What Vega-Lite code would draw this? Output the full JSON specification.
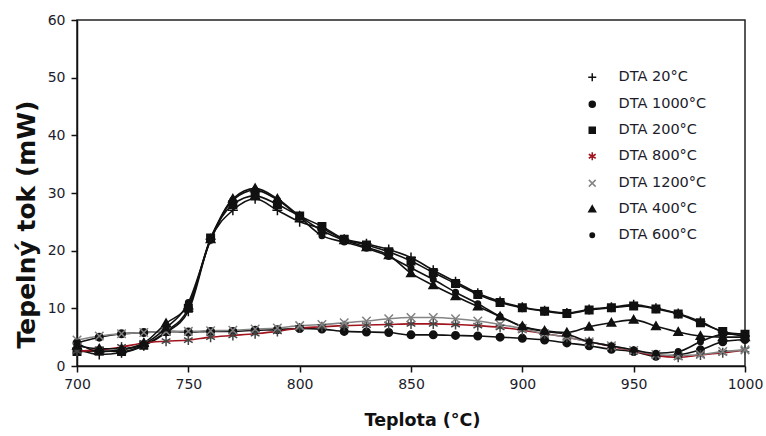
{
  "$schema": "https://vega.github.io/schema/vega-lite/v6.json",
  "width": 668,
  "height": 346,
  "autosize": "none",
  "padding": {"left": 77, "top": 20, "right": 21, "bottom": 70},
  "background": "white",
  "config": {
    "view": {"stroke": "#222", "strokeWidth": 1.5},
    "font": "DejaVu Sans"
  },
  "datasets": {
    "dta": [
      {"T":700,"s":"DTA 20°C","v":3.0},{"T":710,"s":"DTA 20°C","v":2.0},{"T":720,"s":"DTA 20°C","v":2.3},{"T":730,"s":"DTA 20°C","v":3.5},{"T":740,"s":"DTA 20°C","v":5.8},{"T":750,"s":"DTA 20°C","v":9.5},{"T":760,"s":"DTA 20°C","v":22.0},{"T":770,"s":"DTA 20°C","v":27.0},{"T":780,"s":"DTA 20°C","v":29.0},{"T":790,"s":"DTA 20°C","v":27.0},{"T":800,"s":"DTA 20°C","v":25.0},{"T":810,"s":"DTA 20°C","v":23.8},{"T":820,"s":"DTA 20°C","v":22.0},{"T":830,"s":"DTA 20°C","v":21.2},{"T":840,"s":"DTA 20°C","v":20.2},{"T":850,"s":"DTA 20°C","v":18.8},{"T":860,"s":"DTA 20°C","v":16.6},{"T":870,"s":"DTA 20°C","v":14.6},{"T":880,"s":"DTA 20°C","v":12.6},{"T":890,"s":"DTA 20°C","v":11.2},{"T":900,"s":"DTA 20°C","v":10.2},{"T":910,"s":"DTA 20°C","v":9.6},{"T":920,"s":"DTA 20°C","v":9.2},{"T":930,"s":"DTA 20°C","v":9.8},{"T":940,"s":"DTA 20°C","v":10.2},{"T":950,"s":"DTA 20°C","v":10.6},{"T":960,"s":"DTA 20°C","v":10.0},{"T":970,"s":"DTA 20°C","v":9.1},{"T":980,"s":"DTA 20°C","v":7.7},{"T":990,"s":"DTA 20°C","v":5.9},{"T":1000,"s":"DTA 20°C","v":5.2},
      {"T":700,"s":"DTA 1000°C","v":4.0},{"T":710,"s":"DTA 1000°C","v":5.0},{"T":720,"s":"DTA 1000°C","v":5.6},{"T":730,"s":"DTA 1000°C","v":5.8},{"T":740,"s":"DTA 1000°C","v":6.0},{"T":750,"s":"DTA 1000°C","v":5.9},{"T":760,"s":"DTA 1000°C","v":6.0},{"T":770,"s":"DTA 1000°C","v":6.0},{"T":780,"s":"DTA 1000°C","v":6.2},{"T":790,"s":"DTA 1000°C","v":6.3},{"T":800,"s":"DTA 1000°C","v":6.5},{"T":810,"s":"DTA 1000°C","v":6.4},{"T":820,"s":"DTA 1000°C","v":6.0},{"T":830,"s":"DTA 1000°C","v":5.9},{"T":840,"s":"DTA 1000°C","v":5.8},{"T":850,"s":"DTA 1000°C","v":5.4},{"T":860,"s":"DTA 1000°C","v":5.4},{"T":870,"s":"DTA 1000°C","v":5.3},{"T":880,"s":"DTA 1000°C","v":5.2},{"T":890,"s":"DTA 1000°C","v":5.0},{"T":900,"s":"DTA 1000°C","v":4.8},{"T":910,"s":"DTA 1000°C","v":4.5},{"T":920,"s":"DTA 1000°C","v":4.0},{"T":930,"s":"DTA 1000°C","v":3.5},{"T":940,"s":"DTA 1000°C","v":2.9},{"T":950,"s":"DTA 1000°C","v":2.5},{"T":960,"s":"DTA 1000°C","v":1.7},{"T":970,"s":"DTA 1000°C","v":1.9},{"T":980,"s":"DTA 1000°C","v":2.8},{"T":990,"s":"DTA 1000°C","v":4.2},{"T":1000,"s":"DTA 1000°C","v":4.6},
      {"T":700,"s":"DTA 200°C","v":2.5},{"T":710,"s":"DTA 200°C","v":2.6},{"T":720,"s":"DTA 200°C","v":2.5},{"T":730,"s":"DTA 200°C","v":3.6},{"T":740,"s":"DTA 200°C","v":6.0},{"T":750,"s":"DTA 200°C","v":10.0},{"T":760,"s":"DTA 200°C","v":22.2},{"T":770,"s":"DTA 200°C","v":28.0},{"T":780,"s":"DTA 200°C","v":29.5},{"T":790,"s":"DTA 200°C","v":28.0},{"T":800,"s":"DTA 200°C","v":26.0},{"T":810,"s":"DTA 200°C","v":24.2},{"T":820,"s":"DTA 200°C","v":22.0},{"T":830,"s":"DTA 200°C","v":21.0},{"T":840,"s":"DTA 200°C","v":19.8},{"T":850,"s":"DTA 200°C","v":18.2},{"T":860,"s":"DTA 200°C","v":16.2},{"T":870,"s":"DTA 200°C","v":14.3},{"T":880,"s":"DTA 200°C","v":12.4},{"T":890,"s":"DTA 200°C","v":11.0},{"T":900,"s":"DTA 200°C","v":10.1},{"T":910,"s":"DTA 200°C","v":9.5},{"T":920,"s":"DTA 200°C","v":9.1},{"T":930,"s":"DTA 200°C","v":9.7},{"T":940,"s":"DTA 200°C","v":10.1},{"T":950,"s":"DTA 200°C","v":10.4},{"T":960,"s":"DTA 200°C","v":9.9},{"T":970,"s":"DTA 200°C","v":9.0},{"T":980,"s":"DTA 200°C","v":7.5},{"T":990,"s":"DTA 200°C","v":6.0},{"T":1000,"s":"DTA 200°C","v":5.5},
      {"T":700,"s":"DTA 800°C","v":2.6},{"T":710,"s":"DTA 800°C","v":2.8},{"T":720,"s":"DTA 800°C","v":3.3},{"T":730,"s":"DTA 800°C","v":4.0},{"T":740,"s":"DTA 800°C","v":4.3},{"T":750,"s":"DTA 800°C","v":4.5},{"T":760,"s":"DTA 800°C","v":5.0},{"T":770,"s":"DTA 800°C","v":5.3},{"T":780,"s":"DTA 800°C","v":5.6},{"T":790,"s":"DTA 800°C","v":6.0},{"T":800,"s":"DTA 800°C","v":6.6},{"T":810,"s":"DTA 800°C","v":6.8},{"T":820,"s":"DTA 800°C","v":7.0},{"T":830,"s":"DTA 800°C","v":7.1},{"T":840,"s":"DTA 800°C","v":7.2},{"T":850,"s":"DTA 800°C","v":7.3},{"T":860,"s":"DTA 800°C","v":7.3},{"T":870,"s":"DTA 800°C","v":7.2},{"T":880,"s":"DTA 800°C","v":7.0},{"T":890,"s":"DTA 800°C","v":6.7},{"T":900,"s":"DTA 800°C","v":6.2},{"T":910,"s":"DTA 800°C","v":5.6},{"T":920,"s":"DTA 800°C","v":5.0},{"T":930,"s":"DTA 800°C","v":4.2},{"T":940,"s":"DTA 800°C","v":3.4},{"T":950,"s":"DTA 800°C","v":2.6},{"T":960,"s":"DTA 800°C","v":1.8},{"T":970,"s":"DTA 800°C","v":1.5},{"T":980,"s":"DTA 800°C","v":1.9},{"T":990,"s":"DTA 800°C","v":2.3},{"T":1000,"s":"DTA 800°C","v":2.8},
      {"T":700,"s":"DTA 1200°C","v":4.5},{"T":710,"s":"DTA 1200°C","v":5.2},{"T":720,"s":"DTA 1200°C","v":5.6},{"T":730,"s":"DTA 1200°C","v":5.8},{"T":740,"s":"DTA 1200°C","v":6.0},{"T":750,"s":"DTA 1200°C","v":6.0},{"T":760,"s":"DTA 1200°C","v":6.1},{"T":770,"s":"DTA 1200°C","v":6.2},{"T":780,"s":"DTA 1200°C","v":6.4},{"T":790,"s":"DTA 1200°C","v":6.6},{"T":800,"s":"DTA 1200°C","v":7.0},{"T":810,"s":"DTA 1200°C","v":7.2},{"T":820,"s":"DTA 1200°C","v":7.5},{"T":830,"s":"DTA 1200°C","v":7.8},{"T":840,"s":"DTA 1200°C","v":8.2},{"T":850,"s":"DTA 1200°C","v":8.4},{"T":860,"s":"DTA 1200°C","v":8.4},{"T":870,"s":"DTA 1200°C","v":8.2},{"T":880,"s":"DTA 1200°C","v":7.8},{"T":890,"s":"DTA 1200°C","v":7.2},{"T":900,"s":"DTA 1200°C","v":6.5},{"T":910,"s":"DTA 1200°C","v":5.6},{"T":920,"s":"DTA 1200°C","v":5.0},{"T":930,"s":"DTA 1200°C","v":4.2},{"T":940,"s":"DTA 1200°C","v":3.5},{"T":950,"s":"DTA 1200°C","v":2.7},{"T":960,"s":"DTA 1200°C","v":2.0},{"T":970,"s":"DTA 1200°C","v":1.8},{"T":980,"s":"DTA 1200°C","v":2.0},{"T":990,"s":"DTA 1200°C","v":2.5},{"T":1000,"s":"DTA 1200°C","v":2.8},
      {"T":700,"s":"DTA 400°C","v":3.5},{"T":710,"s":"DTA 400°C","v":3.0},{"T":720,"s":"DTA 400°C","v":3.0},{"T":730,"s":"DTA 400°C","v":4.0},{"T":740,"s":"DTA 400°C","v":7.4},{"T":750,"s":"DTA 400°C","v":10.5},{"T":760,"s":"DTA 400°C","v":22.0},{"T":770,"s":"DTA 400°C","v":29.0},{"T":780,"s":"DTA 400°C","v":30.8},{"T":790,"s":"DTA 400°C","v":29.0},{"T":800,"s":"DTA 400°C","v":26.0},{"T":810,"s":"DTA 400°C","v":23.5},{"T":820,"s":"DTA 400°C","v":21.8},{"T":830,"s":"DTA 400°C","v":20.6},{"T":840,"s":"DTA 400°C","v":19.2},{"T":850,"s":"DTA 400°C","v":16.1},{"T":860,"s":"DTA 400°C","v":14.0},{"T":870,"s":"DTA 400°C","v":12.1},{"T":880,"s":"DTA 400°C","v":10.3},{"T":890,"s":"DTA 400°C","v":8.6},{"T":900,"s":"DTA 400°C","v":6.9},{"T":910,"s":"DTA 400°C","v":6.1},{"T":920,"s":"DTA 400°C","v":5.8},{"T":930,"s":"DTA 400°C","v":6.8},{"T":940,"s":"DTA 400°C","v":7.5},{"T":950,"s":"DTA 400°C","v":8.0},{"T":960,"s":"DTA 400°C","v":6.9},{"T":970,"s":"DTA 400°C","v":5.9},{"T":980,"s":"DTA 400°C","v":5.2},{"T":990,"s":"DTA 400°C","v":5.0},{"T":1000,"s":"DTA 400°C","v":5.0},
      {"T":700,"s":"DTA 600°C","v":4.0},{"T":710,"s":"DTA 600°C","v":2.5},{"T":720,"s":"DTA 600°C","v":2.8},{"T":730,"s":"DTA 600°C","v":3.8},{"T":740,"s":"DTA 600°C","v":6.6},{"T":750,"s":"DTA 600°C","v":11.0},{"T":760,"s":"DTA 600°C","v":21.8},{"T":770,"s":"DTA 600°C","v":28.8},{"T":780,"s":"DTA 600°C","v":30.5},{"T":790,"s":"DTA 600°C","v":28.8},{"T":800,"s":"DTA 600°C","v":25.8},{"T":810,"s":"DTA 600°C","v":22.6},{"T":820,"s":"DTA 600°C","v":21.5},{"T":830,"s":"DTA 600°C","v":20.4},{"T":840,"s":"DTA 600°C","v":19.0},{"T":850,"s":"DTA 600°C","v":17.0},{"T":860,"s":"DTA 600°C","v":15.0},{"T":870,"s":"DTA 600°C","v":12.8},{"T":880,"s":"DTA 600°C","v":10.8},{"T":890,"s":"DTA 600°C","v":8.6},{"T":900,"s":"DTA 600°C","v":6.8},{"T":910,"s":"DTA 600°C","v":6.0},{"T":920,"s":"DTA 600°C","v":5.5},{"T":930,"s":"DTA 600°C","v":4.2},{"T":940,"s":"DTA 600°C","v":3.5},{"T":950,"s":"DTA 600°C","v":2.8},{"T":960,"s":"DTA 600°C","v":2.2},{"T":970,"s":"DTA 600°C","v":2.5},{"T":980,"s":"DTA 600°C","v":4.2},{"T":990,"s":"DTA 600°C","v":5.5},{"T":1000,"s":"DTA 600°C","v":5.6}
    ]
  },
  "data": {"name": "dta"},
  "encoding": {
    "x": {
      "field": "T", "type": "quantitative",
      "scale": {"domain": [700, 1000], "nice": false, "zero": false},
      "axis": {
        "values": [700, 750, 800, 850, 900, 950, 1000], "format": "d",
        "grid": false, "domainColor": "#111", "domainWidth": 1.5,
        "tickColor": "#111", "tickWidth": 1.5, "tickSize": 6,
        "labelFont": "DejaVu Sans", "labelFontSize": 14, "labelColor": "#1c1c2a", "labelPadding": 5,
        "labelFlush": false,
        "title": "Teplota (°C)", "titleFont": "DejaVu Sans", "titleFontSize": 17.5, "titleFontWeight": "bold",
        "titleColor": "#111", "titleX": 345, "titleY": 59, "titleBaseline": "alphabetic", "titleAlign": "center"
      }
    },
    "y": {
      "field": "v", "type": "quantitative",
      "scale": {"domain": [0, 60], "nice": false},
      "axis": {
        "values": [0, 10, 20, 30, 40, 50, 60],
        "grid": false, "domainColor": "#111", "domainWidth": 1.5,
        "tickColor": "#111", "tickWidth": 1.5, "tickSize": 6,
        "labelFont": "DejaVu Sans", "labelFontSize": 14, "labelColor": "#1c1c2a", "labelPadding": 6,
        "labelFlush": false,
        "title": "Tepelný tok (mW)", "titleFont": "DejaVu Sans", "titleFontSize": 25, "titleFontWeight": "bold",
        "titleColor": "#111", "titleAngle": -90, "titleX": -51, "titleY": 204, "titleBaseline": "middle", "titleAlign": "center"
      }
    }
  },
  "layer": [
    {
      "mark": {"type": "line", "interpolate": "monotone", "strokeWidth": 1.6},
      "encoding": {
        "color": {
          "field": "s", "type": "nominal",
          "scale": {
            "domain": ["DTA 20°C", "DTA 1000°C", "DTA 200°C", "DTA 800°C", "DTA 1200°C", "DTA 400°C", "DTA 600°C"],
            "range": ["#111111", "#111111", "#111111", "#a0141e", "#858585", "#111111", "#111111"]
          }
        }
      }
    },
    {
      "mark": {"type": "point", "size": 100, "strokeWidth": 1.5, "opacity": 1},
      "encoding": {
        "shape": {
          "field": "s", "type": "nominal",
          "scale": {
            "domain": ["DTA 20°C", "DTA 1000°C", "DTA 200°C", "DTA 800°C", "DTA 1200°C", "DTA 400°C", "DTA 600°C"],
            "range": [
              "M-1,0L1,0M0,-1L0,1",
              "M0.75,0A0.75,0.75 0 1,1 -0.75,0A0.75,0.75 0 1,1 0.75,0Z",
              "M-0.75,-0.75L0.75,-0.75L0.75,0.75L-0.75,0.75Z",
              "M0,-1L0,1M-0.87,-0.5L0.87,0.5M-0.87,0.5L0.87,-0.5",
              "M-0.85,-0.85L0.85,0.85M-0.85,0.85L0.85,-0.85",
              "M0,-0.85L0.85,0.65L-0.85,0.65Z",
              "M0.55,0A0.55,0.55 0 1,1 -0.55,0A0.55,0.55 0 1,1 0.55,0Z"
            ]
          },
          "legend": {
            "title": null,
            "orient": "none",
            "legendX": 508,
            "legendY": 50,
            "padding": 0,
            "symbolSize": 64,
            "symbolStrokeWidth": 1.5,
            "labelFont": "DejaVu Sans",
            "labelFontSize": 14.5,
            "labelColor": "#1c1c2a",
            "labelOffset": 19,
            "rowPadding": 11,
            "encode": {
              "symbols": {
                "shape": {"value": {"expr": "scale('shape', datum.value) + 'M-4.9,0L4.9,0'"}},
                "fill": {"value": {"expr": "scale('fill', datum.value)"}},
                "stroke": {"value": {"expr": "datum.value === 'DTA 800°C' ? '#a0141e' : scale('stroke', datum.value)"}},
                "strokeWidth": {"value": 1.5},
                "opacity": {"value": 1}
              }
            }
          }
        },
        "fill": {
          "field": "s", "type": "nominal",
          "scale": {
            "domain": ["DTA 20°C", "DTA 1000°C", "DTA 200°C", "DTA 800°C", "DTA 1200°C", "DTA 400°C", "DTA 600°C"],
            "range": ["transparent", "#111111", "#111111", "transparent", "transparent", "#111111", "#111111"]
          }
        },
        "stroke": {
          "field": "s", "type": "nominal",
          "scale": {
            "domain": ["DTA 20°C", "DTA 1000°C", "DTA 200°C", "DTA 800°C", "DTA 1200°C", "DTA 400°C", "DTA 600°C"],
            "range": ["#111111", "#111111", "#111111", "#444444", "#808080", "#111111", "#111111"]
          }
        }
      }
    }
  ]
}
